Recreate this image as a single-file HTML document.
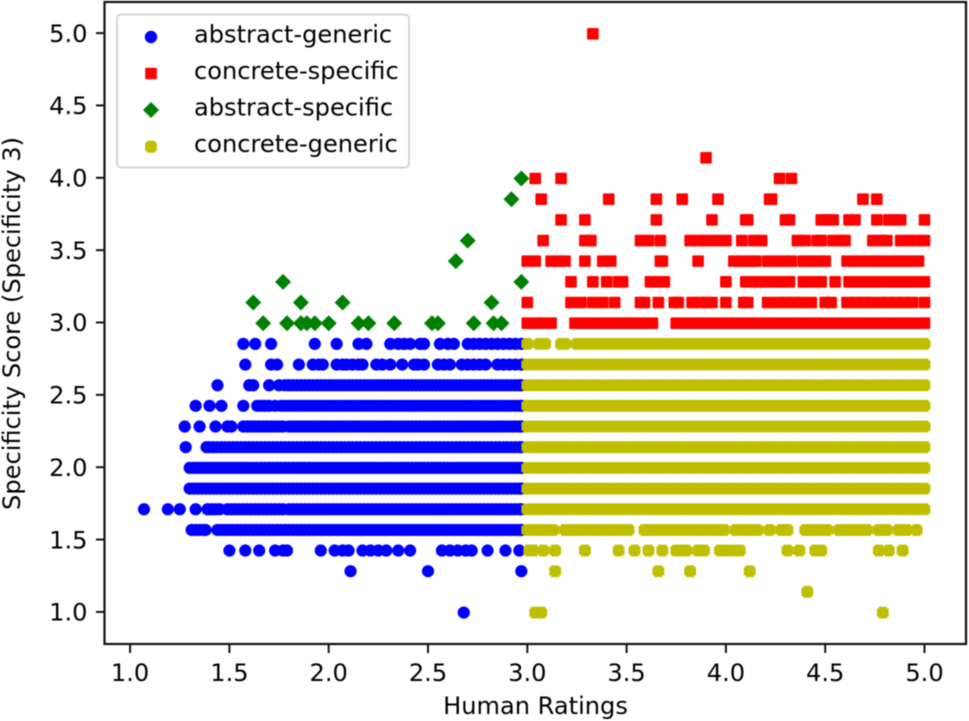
<!DOCTYPE html>
<html lang="en">
<head>
<meta charset="utf-8">
<title>Specificity Score vs Human Ratings</title>
<style>
html,body{margin:0;padding:0;background:#fff;width:969px;height:721px;overflow:hidden}
svg{display:block;font-family:"DejaVu Sans","Liberation Sans",sans-serif;font-size:24.1px;fill:#000;filter:blur(0.45px)}
</style>
</head>
<body>
<svg id="chart" width="969" height="721" viewBox="0 0 969 721" xmlns="http://www.w3.org/2000/svg">
  <rect x="0" y="0" width="969" height="721" fill="#fff"/>
  <g id="marks"></g>
  <rect x="104.5" y="2" width="861.5" height="642" fill="none" stroke="#111" stroke-width="2.2"/>
  <g id="axes"></g>
  <text x="535.5" y="714" text-anchor="middle">Human Ratings</text>
  <text transform="translate(20,323.5) rotate(-90)" text-anchor="middle">Specificity Score (Specificity 3)</text>
  <g>
    <rect x="117" y="14.5" width="292" height="153" rx="4" fill="#fff" fill-opacity="0.9" stroke="#d0d0d0" stroke-width="1.8"/>
    <g>
      <circle cx="151" cy="37" r="6.2" fill="#0000ff"/>
      <text x="194" y="42.5">abstract-generic</text>
    </g>
    <g>
      <rect x="145.2" y="67.7" width="11.6" height="11.6" rx="1" fill="#ff0000"/>
      <text x="194" y="79">concrete-specific</text>
    </g>
    <g>
      <polygon points="151,102 159,110 151,118 143,110" fill="#008000"/>
      <text x="194" y="115.5">abstract-specific</text>
    </g>
    <g>
      <polygon points="146.9,140.8 155.1,140.8 155.1,142.6 156.9,142.6 156.9,150.8 155.1,150.8 155.1,152.6 146.9,152.6 146.9,150.8 145.1,150.8 145.1,142.6 146.9,142.6" fill="#bfbf00"/>
      <text x="194" y="152">concrete-generic</text>
    </g>
  </g>
</svg>
<script>
const xTickLabels = ["1.0","1.5","2.0","2.5","3.0","3.5","4.0","4.5","5.0"];
const yTickLabels = ["1.0","1.5","2.0","2.5","3.0","3.5","4.0","4.5","5.0"];

const blueSolidRun = [1.80,1.82,1.84,1.86,1.88,1.90,1.92,1.94,1.96,1.98,2.00,2.02,2.04,2.06,2.08,2.10,2.12,2.14,2.16,2.18,2.20,2.22,2.24,2.26,2.28,2.30,2.32,2.34,2.36,2.38,2.40,2.42,2.44,2.46,2.48,2.50,2.52,2.54,2.56,2.58,2.60,2.62,2.64,2.66,2.68,2.70,2.72,2.74,2.76,2.78,2.80,2.82,2.84,2.86,2.88,2.90,2.92,2.94,2.96,2.97];
const blueLevels = [1.0,1.286,1.429,1.571,1.714,1.857,2.0,2.143,2.286,2.429,2.571,2.714,2.857];
const blueX = [
  [2.68],
  [2.11,2.50,2.97],
  [1.50,1.58,1.65,1.73,1.77,1.79,1.96,2.03,2.07,2.10,2.17,2.21,2.25,2.29,2.35,2.41,2.57,2.61,2.65,2.69,2.72,2.80,2.89,2.96],
  [1.31,1.33,1.35,1.37,1.38,1.44,1.46,1.48,1.50,1.52,1.54,1.56,1.58,1.60,1.62,1.64,1.66,1.68,1.70,1.72,1.74,1.76,1.78,...blueSolidRun],
  [1.07,1.19,1.25,1.33,1.39,1.41,1.43,1.45,1.49,1.51,1.53,1.55,1.57,1.59,1.61,1.63,1.65,1.67,1.69,1.71,1.73,1.75,1.77,...blueSolidRun],
  [1.30,1.32,1.34,1.36,1.38,1.40,1.42,1.44,1.46,1.48,1.50,1.52,1.54,1.56,1.58,1.60,1.62,1.64,1.66,1.68,1.70,1.72,1.74,1.76,1.78,...blueSolidRun],
  [1.30,1.32,1.34,1.36,1.38,1.40,1.42,1.44,1.46,1.48,1.50,1.52,1.54,1.56,1.58,1.60,1.62,1.64,1.66,1.68,1.70,1.72,1.74,1.76,1.78,...blueSolidRun],
  [1.28,1.385,1.40,1.42,1.44,1.46,1.48,1.50,1.52,1.54,1.56,1.58,1.60,1.62,1.64,1.66,1.68,1.70,1.72,1.74,1.76,1.78,...blueSolidRun],
  [1.275,1.35,1.43,1.49,1.51,1.57,1.59,1.61,1.63,1.65,1.67,1.69,1.71,1.73,1.75,1.77,...blueSolidRun],
  [1.33,1.40,1.46,1.57,1.64,1.66,1.68,1.70,1.73,1.76,1.78,...blueSolidRun],
  [1.44,1.60,1.62,1.70,1.75,1.78,...blueSolidRun],
  [1.58,1.71,1.74,1.85,1.92,1.95,1.97,2.04,2.07,2.09,2.12,2.15,2.17,2.24,2.27,2.31,2.37,2.43,2.45,2.48,2.55,2.58,2.61,2.67,2.70,2.73,2.76,2.79,2.85,2.88,2.91,2.94,2.97],
  [1.57,1.63,1.71,1.93,2.04,2.15,2.19,2.31,2.35,2.38,2.41,2.46,2.48,2.56,2.60,2.63,2.70,2.73,2.76,2.79,2.82,2.85,2.88,2.91,2.94,2.97]
];

const redLevels = [3.0,3.143,3.286,3.429,3.571,3.714,3.857,4.0,4.143,5.0];
const redX = [
  [3.00,3.04,3.08,3.12,3.24,3.28,3.32,3.37,3.41,3.45,3.49,3.53,3.58,3.63,3.75,3.79,3.84,3.88,3.92,3.97,4.01,4.05,4.10,4.14,4.19,4.23,4.27,4.32,4.36,4.41,4.45,4.49,4.54,4.58,4.63,4.67,4.71,4.76,4.80,4.85,4.89,4.93,4.98,5.00],
  [3.00,3.22,3.27,3.33,3.38,3.44,3.57,3.59,3.66,3.74,3.76,3.83,3.87,3.90,3.93,4.00,4.09,4.11,4.21,4.26,4.30,4.34,4.38,4.43,4.50,4.53,4.61,4.65,4.69,4.73,4.78,4.82,4.86,4.90,4.94,5.00],
  [3.22,3.33,3.40,3.46,3.48,3.62,3.65,3.69,4.00,4.10,4.14,4.17,4.20,4.25,4.29,4.32,4.39,4.43,4.48,4.55,4.62,4.66,4.70,4.74,4.78,4.83,4.87,4.91,4.95,5.00],
  [3.00,3.04,3.12,3.16,3.19,3.29,3.38,3.42,3.67,3.68,3.86,4.04,4.08,4.12,4.15,4.21,4.26,4.30,4.33,4.39,4.43,4.47,4.50,4.61,4.65,4.69,4.73,4.78,4.82,4.86,4.90,4.94,4.97],
  [3.08,3.29,3.32,3.57,3.61,3.67,3.82,3.86,3.90,3.95,4.00,4.08,4.14,4.18,4.36,4.40,4.46,4.48,4.54,4.58,4.60,4.74,4.78,4.81,4.88,4.92,4.96,5.00],
  [3.17,3.29,3.65,3.93,4.10,4.11,4.30,4.32,4.48,4.51,4.54,4.62,4.65,4.76,4.82,4.85,4.88,5.00],
  [3.07,3.41,3.65,3.78,3.96,4.22,4.23,4.69,4.76],
  [3.04,3.17,4.27,4.33],
  [3.90],
  [3.33]
];

const greenLevels = [3.0,3.143,3.286,3.429,3.571,3.857,4.0];
const greenX = [
  [1.67,1.79,1.86,1.89,1.93,2.00,2.15,2.20,2.33,2.52,2.55,2.73,2.83,2.87],
  [1.62,1.86,2.07,2.82],
  [1.77,2.97],
  [2.64],
  [2.70],
  [2.92],
  [2.97]
];

const yellowRunA = [3.04,3.07,3.11,3.14,3.18,3.21];
const yellowRunB = [3.25,3.28,3.32,3.35,3.39,3.42,3.46,3.49,3.53,3.56,3.60,3.63,3.67,3.70,3.74,3.77,3.81,3.84,3.88,3.91,3.95,3.98,4.02,4.05,4.09,4.12,4.16,4.19,4.23,4.26,4.30,4.33,4.37,4.40,4.44,4.47,4.51,4.54,4.58,4.61,4.65,4.68,4.72,4.75,4.79,4.82,4.86,4.89,4.93,4.96,5.00];
const yellowLevels = [1.0,1.143,1.286,1.429,1.571,1.714,1.857,2.0,2.143,2.286,2.429,2.571,2.714,2.857];
const yellowX = [
  [3.04,3.07,4.79],
  [4.41],
  [3.14,3.66,3.82,4.12],
  [3.01,3.03,3.08,3.14,3.29,3.46,3.54,3.61,3.68,3.75,3.77,3.80,3.86,3.89,3.97,4.00,4.04,4.07,4.31,4.37,4.45,4.48,4.77,4.82,4.89],
  [3.00,3.03,3.06,3.10,3.13,3.19,3.23,3.26,3.30,3.33,3.37,3.40,3.44,3.47,3.51,3.59,3.62,3.65,3.67,3.71,3.74,3.77,3.80,3.83,3.86,3.90,3.93,3.96,3.99,4.05,4.08,4.12,4.16,4.22,4.28,4.31,4.40,4.43,4.47,4.51,4.57,4.60,4.64,4.67,4.71,4.77,4.81,4.87,4.91,4.96],
  [3.00,...yellowRunA,...yellowRunB],
  [3.00,...yellowRunA,...yellowRunB],
  [3.00,...yellowRunA,...yellowRunB],
  [3.00,...yellowRunA,...yellowRunB],
  [3.00,...yellowRunA,...yellowRunB],
  [3.00,...yellowRunA,...yellowRunB],
  [3.00,...yellowRunA,...yellowRunB],
  [3.00,...yellowRunA,...yellowRunB],
  [3.00,3.06,3.09,3.17,3.19,...yellowRunB]
];

const SVG_NS = "http://www.w3.org/2000/svg";
function xScale(v){ return 130.1 + (v - 1) * 198.6; }
function yScale(v){ return 612.6 - (v - 1) * 144.7; }

const marksLayer = document.getElementById("marks");
const axesLayer = document.getElementById("axes");

function drawCircle(parent, v, level){
  const el = document.createElementNS(SVG_NS, "circle");
  el.setAttribute("cx", xScale(v));
  el.setAttribute("cy", yScale(level));
  el.setAttribute("r", 6.1);
  el.setAttribute("fill", "#0000ff");
  
  
  parent.appendChild(el);
}
function drawSquare(parent, v, level){
  const el = document.createElementNS(SVG_NS, "rect");
  el.setAttribute("x", xScale(v) - 5.8);
  el.setAttribute("y", yScale(level) - 5.8);
  el.setAttribute("width", 11.6);
  el.setAttribute("height", 11.6);
  el.setAttribute("rx", 1);
  el.setAttribute("fill", "#ff0000");
  
  
  parent.appendChild(el);
}
function drawDiamond(parent, v, level){
  const cx = xScale(v), cy = yScale(level), r = 8;
  const el = document.createElementNS(SVG_NS, "polygon");
  el.setAttribute("points", [cx, cy - r, cx + r, cy, cx, cy + r, cx - r, cy].join(" "));
  el.setAttribute("fill", "#008000");
  
  
  parent.appendChild(el);
}
function drawPlus(parent, v, level){
  const cx = xScale(v), cy = yScale(level), a = 5.9, b = 4.1;
  const pts = [cx-b,cy-a, cx+b,cy-a, cx+b,cy-b, cx+a,cy-b, cx+a,cy+b, cx+b,cy+b, cx+b,cy+a, cx-b,cy+a, cx-b,cy+b, cx-a,cy+b, cx-a,cy-b, cx-b,cy-b];
  const el = document.createElementNS(SVG_NS, "polygon");
  el.setAttribute("points", pts.join(" "));
  el.setAttribute("fill", "#bfbf00");
  
  
  parent.appendChild(el);
}
function drawSeries(levels, rows, drawMark){
  levels.forEach(function(level, i){
    rows[i].forEach(function(v){ drawMark(marksLayer, v, level); });
  });
}
drawSeries(blueLevels, blueX, drawCircle);
drawSeries(redLevels, redX, drawSquare);
drawSeries(greenLevels, greenX, drawDiamond);
drawSeries(yellowLevels, yellowX, drawPlus);

xTickLabels.forEach(function(label){
  const px = xScale(parseFloat(label));
  const tick = document.createElementNS(SVG_NS, "line");
  tick.setAttribute("x1", px);
  tick.setAttribute("x2", px);
  tick.setAttribute("y1", 644);
  tick.setAttribute("y2", 653);
  tick.setAttribute("stroke", "#111");
  tick.setAttribute("stroke-width", 2);
  
  
  axesLayer.appendChild(tick);
  const text = document.createElementNS(SVG_NS, "text");
  text.setAttribute("x", px);
  text.setAttribute("y", 681);
  text.setAttribute("text-anchor", "middle");
  text.textContent = label;
  
  
  axesLayer.appendChild(text);
});
yTickLabels.forEach(function(label){
  const py = yScale(parseFloat(label)) - 0.7;
  const tick = document.createElementNS(SVG_NS, "line");
  tick.setAttribute("x1", 96);
  tick.setAttribute("x2", 104.5);
  tick.setAttribute("y1", py);
  tick.setAttribute("y2", py);
  tick.setAttribute("stroke", "#111");
  tick.setAttribute("stroke-width", 2);
  
  
  axesLayer.appendChild(tick);
  const text = document.createElementNS(SVG_NS, "text");
  text.setAttribute("x", 87.5);
  text.setAttribute("y", py + 8.7);
  text.setAttribute("text-anchor", "end");
  text.textContent = label;
  
  
  axesLayer.appendChild(text);
});
</script>
</body>
</html>
